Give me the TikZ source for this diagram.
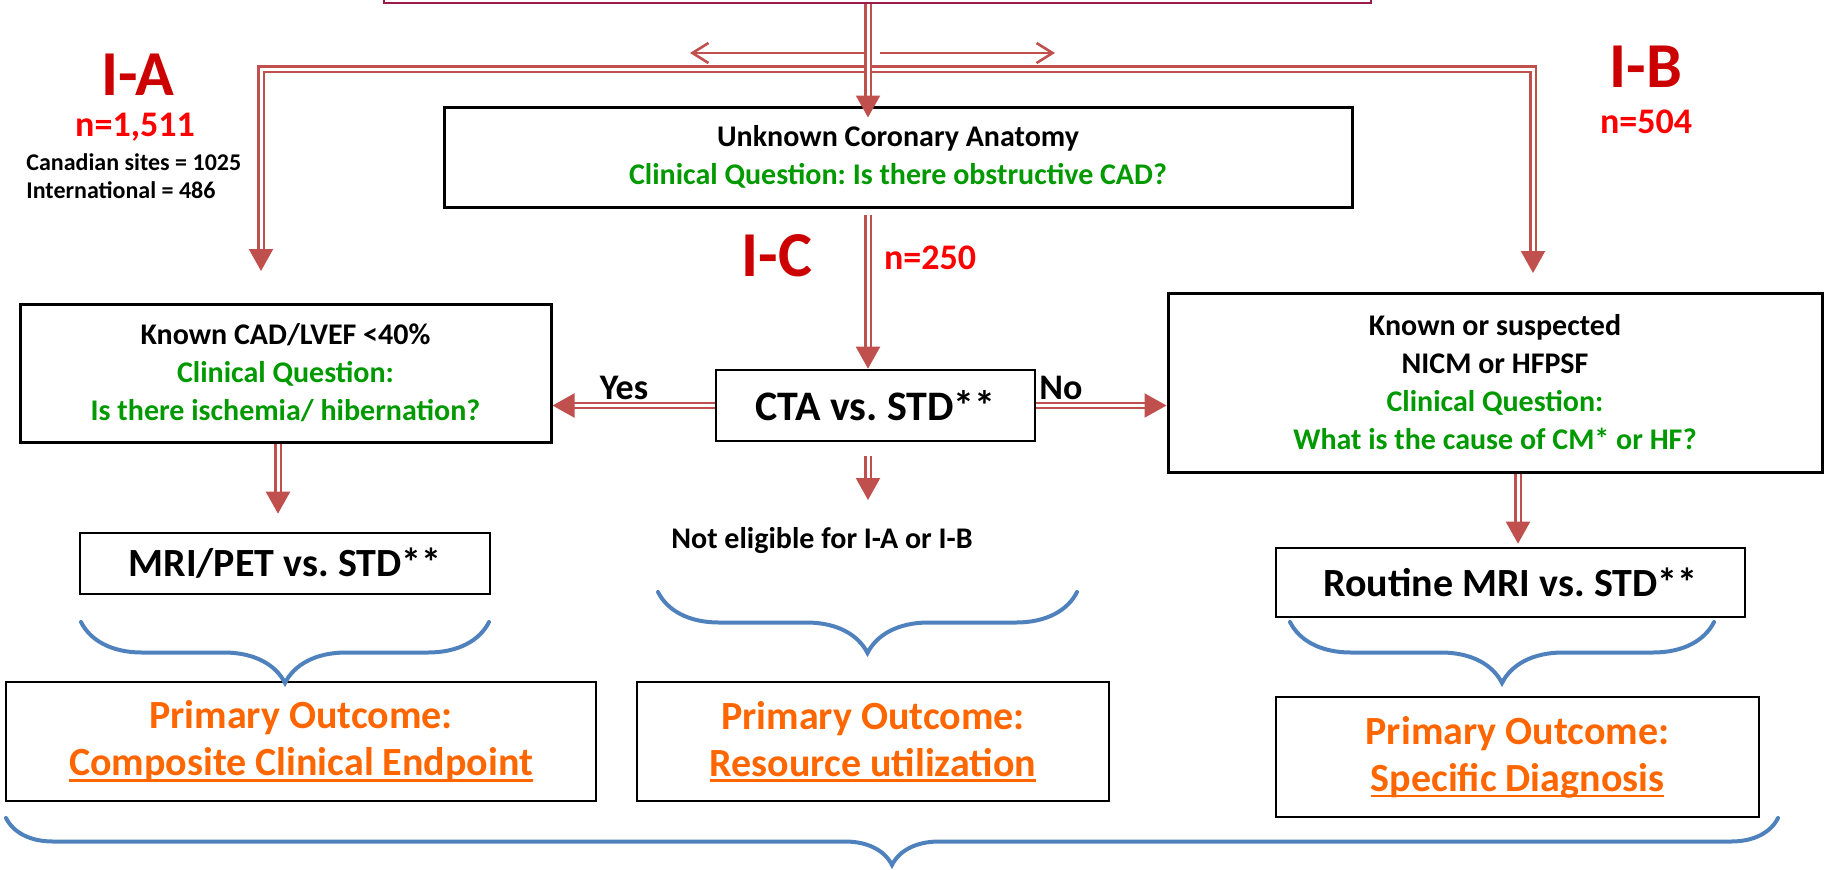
\documentclass[tikz,border=0pt]{standalone}
\usepackage{fontspec}
\setmainfont{Carlito}
\usetikzlibrary{arrows.meta,decorations.pathreplacing}

\definecolor{arrowred}{HTML}{C0504D}
\definecolor{labelred}{HTML}{CC0000}
\definecolor{countred}{HTML}{FF0000}
\definecolor{qgreen}{HTML}{009900}
\definecolor{outorange}{HTML}{FF6600}
\definecolor{braceblue}{HTML}{4F81BD}
\definecolor{topred}{HTML}{9B1B4B}

% thick underline for the outcome lines
\newcommand{\thickul}[1]{\setbox0\hbox{#1}\rlap{\rule[-3pt]{\wd0}{1.3pt}}\box0}
\frenchspacing

\begin{document}
\begin{tikzpicture}[x=0.5pt, y=-0.5pt]
	% Set styles
	\tikzset{
		qbox/.style={draw, line width=1.5pt, align=center, inner sep=0pt, font=\bfseries\fontsize{15}{19}\selectfont},
		testbox/.style={draw, line width=1.3pt, inner sep=0pt, font=\bfseries\fontsize{20}{24}\selectfont},
		outbox/.style={draw, line width=1pt, align=center, inner sep=0pt, text=outorange, font=\bfseries\fontsize{20}{23.5}\selectfont},
		group label/.style={text=labelred, font=\bfseries\fontsize{32}{36}\selectfont},
		count label/.style={text=countred, font=\bfseries\fontsize{18}{20}\selectfont},
		plain label/.style={font=\bfseries\fontsize{15}{18}\selectfont},
		dbl/.style={draw=arrowred, line width=1.1pt, double=white, double distance=1.5pt},
		dblarrow/.style={dbl, -{Triangle[width=12pt, length=11pt]}},
		openarrow/.style={draw=arrowred, line width=1.3pt, -{Straight Barb[width=10pt, length=8pt]}},
		brace line/.style={draw=braceblue, line width=2pt, line cap=round, decorate}
	}
	\useasboundingbox (0,0) rectangle (1825,869);

	% Boxes
	\node [draw=topred, line width=1.2pt, minimum width=493.5pt, minimum height=23pt] (src) at (877.5,-20) {};
	\node [qbox, minimum width=454pt, minimum height=50pt] (unk) at (898,157)
		{Unknown Coronary Anatomy\\ \textcolor{qgreen}{Clinical Question: Is there obstructive CAD?}};
	\node [testbox, minimum width=159.5pt, minimum height=35.5pt, font=\bfseries\fontsize{21}{24}\selectfont] (cta) at (875.5,405.5) {CTA vs. STD**};
	\node [qbox, minimum width=265.5pt, minimum height=69pt] (known) at (285.5,373)
		{Known CAD/LVEF <40\%\\ \textcolor{qgreen}{Clinical Question:}\\ \textcolor{qgreen}{Is there ischemia/ hibernation?}};
	\node [qbox, minimum width=327pt, minimum height=89.5pt] (nicm) at (1495,382.5)
		{Known or suspected\\ NICM or HFPSF\\ \textcolor{qgreen}{Clinical Question:}\\ \textcolor{qgreen}{What is the cause of CM* or HF?}};
	\node [testbox, minimum width=205pt, minimum height=30.5pt] (mri) at (285,563.5) {MRI/PET vs. STD**};
	\node [testbox, minimum width=234.5pt, minimum height=34.5pt] (routine) at (1510.5,582.5) {Routine MRI vs. STD**};

	% Outcome boxes
	\node [outbox, minimum width=295pt, minimum height=59.5pt] (outA) at (301,741.5) {Primary Outcome:\\ \thickul{Composite Clinical Endpoint}};
	\node [outbox, minimum width=236pt, minimum height=59.5pt] (outC) at (873,741.5) {Primary Outcome:\\ \thickul{Resource utilization}};
	\node [outbox, minimum width=241.5pt, minimum height=60pt] (outB) at (1517.5,757) {Primary Outcome:\\ \thickul{Specific Diagnosis}};

	% Labels
	\node [group label] (ia) at (138,75) {I-A};
	\node [count label] (na) at (135,127) {n=1,511};
	\node [plain label, font=\bfseries\fontsize{12}{14}\selectfont, align=left, anchor=west, inner sep=0pt] (sites) at (26,176)
		{Canadian sites = 1025\\ International = 486};
	\node [group label] (ib) at (1646,67) {I-B};
	\node [count label] (nb) at (1646,122) {n=504};
	\node [group label] (ic) at (777,256) {I-C};
	\node [count label] (nc) at (930,258) {n=250};
	\node [count label, text=black] (yes) at (624,388) {Yes};
	\node [count label, text=black] (no) at (1061,388) {No};
	\node [plain label] (noteli) at (822,541) {Not eligible for I-A or I-B};

	% Connector points
	\coordinate (mid) at (868,69);
	\coordinate (split) at (868,53);
	\coordinate (sl) at (690,53);
	\coordinate (sr) at (1055,53);
	\coordinate (ta) at (261,271);
	\coordinate (tb) at (1533,273);
	\coordinate (down) at (868,500);

	% Arrows
	\draw [openarrow] (split) -- (sl);
	\draw [openarrow, shorten <=6pt] (split) -- (sr);
	\draw [dbl, {Triangle[width=12pt, length=11pt]}-{Triangle[width=12pt, length=11pt]}] (ta) |- (mid) -| (tb);
	\draw [dblarrow, shorten >=-6pt] (src.south -| mid) -- (unk.north -| mid);
	\draw [dblarrow, shorten <=3pt] (unk.south -| mid) -- (cta.north -| mid);
	\draw [dblarrow] (cta.west) -- (cta.west -| known.east);
	\draw [dblarrow] (cta.east) -- (cta.east -| nicm.west);
	\draw [dblarrow, shorten <=7pt] (cta.south -| mid) -- (down);
	\draw [dblarrow, shorten >=9pt] (known.south -| 278,0) -- (mri.north -| 278,0);
	\draw [dblarrow, shorten >=1.5pt] (nicm.south -| 1518,0) -- (routine.north -| 1518,0);

	% Braces
	\draw [brace line, decoration={brace, amplitude=30.5pt}] (489,622) -- (81,622);
	\draw [brace line, decoration={brace, amplitude=30.5pt}] (1077,592) -- (658,592);
	\draw [brace line, decoration={brace, amplitude=30.5pt}] (1714,622) -- (1290,622);
	\draw [brace line, decoration={brace, amplitude=23.5pt}] (1778,818) -- (6,818);
\end{tikzpicture}
\end{document}
